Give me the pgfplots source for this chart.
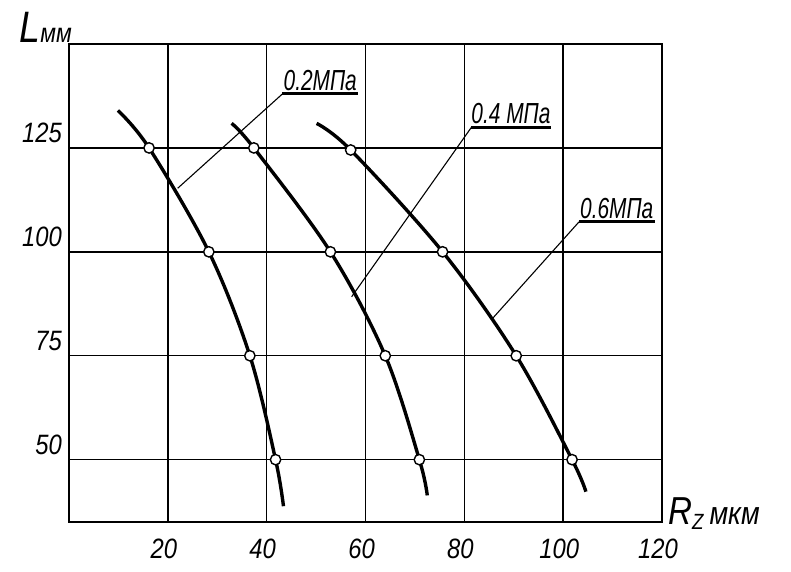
\documentclass[border=0pt]{standalone}
\usepackage{pgfplots}
\pgfplotsset{compat=1.18}
\usepackage{fontspec}
\setmainfont{Liberation Sans}[FakeStretch=0.85]
\newfontfamily\lab{Liberation Sans}[FakeStretch=0.72]
\begin{document}
\begin{tikzpicture}[x=1pt,y=1pt]
\useasboundingbox (-69,-49) rectangle (722,522);
\begin{axis}[at={(0,0)}, anchor=south west, scale only axis,
  width=593pt, height=478pt,
  xmin=0, xmax=120, ymin=35, ymax=150,
  xtick={20,40,60,80,100,120}, ytick={50,75,100,125},
  grid=major, major grid style={black, line width=1.5pt},
  axis line style={line width=1.6pt},
  major tick length=0pt,
  tick label style={font=\fontsize{28}{30}\selectfont\itshape},
  xticklabel style={anchor=center, inner sep=0pt, yshift=-27pt, xshift=-4pt},
  yticklabel style={anchor=east, inner sep=0pt, yshift=15pt, xshift=-7pt},
  /pgf/number format/assume math mode=true,
  clip=false,
]
% curves
\addplot[line width=3.4pt, smooth, tension=0.55] coordinates {(9.9,134)(16.2,125)(28.3,100)(36.6,75)(41.8,50)(43.4,38.8)};
\addplot[line width=3.4pt, smooth, tension=0.55] coordinates {(32.9,130.9)(37.4,125)(52.9,100)(64.0,75)(70.9,50)(72.5,41.4)};
\addplot[line width=3.4pt, smooth, tension=0.55] coordinates {(50.1,130.9)(57.0,124.5)(75.6,100)(90.5,75)(101.8,50)(104.6,42.3)};
% measured points
\addplot[only marks, mark=*, mark size=5.2pt, mark options={fill=white, draw=black, line width=1.4pt}] coordinates {(16.2,125)(28.3,100)(36.6,75)(41.8,50)};
\addplot[only marks, mark=*, mark size=5.2pt, mark options={fill=white, draw=black, line width=1.4pt}] coordinates {(37.4,125)(52.9,100)(64.0,75)(70.9,50)};
\addplot[only marks, mark=*, mark size=5.2pt, mark options={fill=white, draw=black, line width=1.4pt}] coordinates {(57.0,124.5)(75.6,100)(90.5,75)(101.8,50)};
% leaders and labels
\draw[line width=1.1pt] (axis cs:22.0,115.3) -- (axis cs:43.2,138.0);
\draw[line width=3pt] (axis cs:43.2,138.0) -- (axis cs:58.4,138.0);
\node[anchor=base west, inner sep=0pt, font=\lab\fontsize{29}{30}\selectfont\itshape] at (axis cs:43.4,138.9) {0.2МПа};
\draw[line width=1.1pt] (axis cs:57.2,89.2) -- (axis cs:81.4,129.9);
\draw[line width=3pt] (axis cs:81.4,129.9) -- (axis cs:97.6,129.9);
\node[anchor=base west, inner sep=0pt, font=\lab\fontsize{29}{30}\selectfont\itshape] at (axis cs:81.4,130.8) {0.4 МПа};
\draw[line width=1.1pt] (axis cs:85.5,83.7) -- (axis cs:103.2,107.2);
\draw[line width=3pt] (axis cs:103.2,107.2) -- (axis cs:118.6,107.2);
\node[anchor=base west, inner sep=0pt, font=\lab\fontsize{29}{30}\selectfont\itshape] at (axis cs:103.4,108.1) {0.6МПа};
% axis titles
\node[anchor=base east, inner sep=0pt, font=\itshape] at ([xshift=3pt,yshift=1pt]rel axis cs:0,1) {{\fontsize{44}{46}\selectfont L}{\fontsize{27}{28}\selectfont мм}};
\node[anchor=base west, inner sep=0pt, font=\itshape] at ([xshift=6pt,yshift=-2pt]rel axis cs:1,0) {{\fontsize{39}{40}\selectfont R}\raisebox{-5pt}{\fontsize{22}{24}\selectfont Z}\hspace{6pt}{\fontsize{32}{34}\selectfont мкм}};
\end{axis}
\end{tikzpicture}
\end{document}
